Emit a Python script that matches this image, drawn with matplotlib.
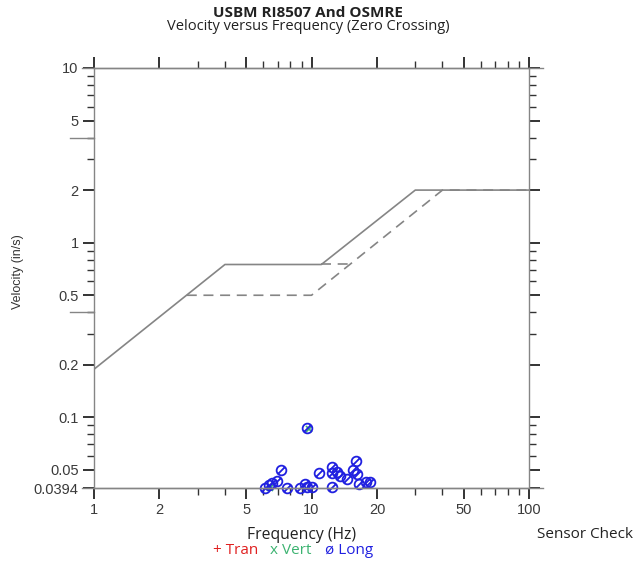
import numpy as np
import matplotlib
matplotlib.use("Agg")
import matplotlib.pyplot as plt
from matplotlib.path import Path

# limit curves
usbm_f = [1, 4, 11.1, 30, 100]
usbm_v = [0.1885, 0.75, 0.75, 2.0, 2.0]
osm_f = [2.67, 10, 15, 40, 100]
osm_v = [0.5, 0.5, 0.75, 2.0, 2.0]
osm2_f = [11.1, 15]
osm2_v = [0.75, 0.75]

# measured peaks
long_f = [9.5, 6.11, 6.40, 6.60, 6.92, 7.27, 7.69, 8.85, 9.33, 9.5, 10.1, 10.86,
          12.46, 12.46, 12.46, 13.14, 13.52, 14.61, 15.56, 16.07, 16.24, 16.53, 17.75, 18.58]
long_v = [0.0867, 0.0396, 0.0410, 0.0423, 0.0433, 0.0498, 0.0396, 0.0396, 0.0416, 0.0400,
          0.0400, 0.0479, 0.0522, 0.0479, 0.0400, 0.0487, 0.0462, 0.0446, 0.0498, 0.0563,
          0.0474, 0.0416, 0.0427, 0.0427]
vert_f = [9.7, 6.45]
vert_v = [0.0855, 0.0394]

yticks = [0.0394, 0.05, 0.1, 0.2, 0.5, 1, 2, 5, 10]
ylabels = ["0.0394", "0.05", "0.1", "0.2", "0.5", "1", "2", "5", "10"]
yminor = [0.06, 0.07, 0.08, 0.09, 0.3, 0.4, 0.6, 0.7, 0.8, 0.9, 3, 4, 6, 7, 8, 9]
xticks = [1, 2, 5, 10, 20, 50, 100]
xlabels = ["1", "2", "5", "10", "20", "50", "100"]
xminor = [3, 4, 6, 7, 8, 9, 30, 40, 60, 70, 80, 90]

W, H = 638, 562
fig = plt.figure(figsize=(W / 100, H / 100), dpi=100)
ax = fig.add_axes([94 / W, 1 - 488 / H, 435 / W, 420 / H])
ax.set_xscale("log")
ax.set_yscale("log")
ax.set_xlim(1, 100)
ax.set_ylim(0.0394, 10)

grey = "#858585"
ax.plot(usbm_f, usbm_v, color=grey, lw=1.2)
ax.plot(osm_f, osm_v, color=grey, lw=1.2, ls=(0, (6, 4)))
ax.plot(osm2_f, osm2_v, color=grey, lw=1.2, ls=(0, (6, 4)))

# circle with slash marker
circ = Path.unit_circle()
slash = Path([(-0.7, -0.7), (0.7, 0.7)], [Path.MOVETO, Path.LINETO])
ophi = Path.make_compound_path(circ, slash)

ax.plot(vert_f, vert_v, ls="none", marker="x", ms=5, mew=1.2, color="#3cb371", clip_on=False)
ax.plot(long_f, long_v, ls="none", marker=ophi, ms=7, mew=1.3, mfc="none", mec="#2020e0",
        clip_on=False)

for s in ax.spines.values():
    s.set_color(grey)
    s.set_linewidth(1.0)

# extended top/bottom lines and stray left lines
ax.axhline(10, -0.028, 1.032, color=grey, lw=1.0, clip_on=False)
ax.axhline(0.0394, -0.028, 1.032, color=grey, lw=1.0, clip_on=False)
ax.axhline(4, -0.055, 0, color=grey, lw=1.0, clip_on=False)
ax.axhline(0.4, -0.055, 0, color=grey, lw=1.0, clip_on=False)

ax.set_xticks(xticks)
ax.set_xticklabels(xlabels)
ax.set_xticks(xminor, minor=True)
ax.set_yticks(yticks)
ax.set_yticklabels(ylabels)
ax.set_yticks(yminor, minor=True)
ax.xaxis.set_minor_formatter(plt.NullFormatter())
ax.yaxis.set_minor_formatter(plt.NullFormatter())
ax.tick_params(which="both", direction="out", top=True, right=True, colors="#333333",
               labelcolor="#3a3a3a", labelsize=10.5)
ax.tick_params(which="major", length=8, width=1.4, pad=3)
ax.tick_params(which="minor", length=5, width=1.0)
for lab in ax.get_xticklabels() + ax.get_yticklabels():
    lab.set_family("Liberation Sans")

tf = "Open Sans"
fig.text(308 / W, 1 - 13 / H, "USBM RI8507 And OSMRE", ha="center", va="center",
         fontsize=11, fontweight="bold", family=tf, color="#222222")
fig.text(308 / W, 1 - 27 / H, "Velocity versus Frequency (Zero Crossing)", ha="center",
         va="center", fontsize=10.5, family=tf, color="#222222")
fig.text(18 / W, 1 - 272 / H, "Velocity (in/s)", rotation=90, ha="center", va="center",
         fontsize=9, family="Liberation Sans", color="#333333")
fig.text(302 / W, 1 - 535 / H, "Frequency (Hz)", ha="center", va="center", fontsize=11.3,
         family=tf, color="#222222")
fig.text(585 / W, 1 - 535 / H, "Sensor Check", ha="center", va="center", fontsize=11,
         family=tf, color="#222222")
fig.text(213 / W, 1 - 551 / H, "+ Tran", ha="left", va="center", fontsize=11, family=tf,
         color="#e02020")
fig.text(270 / W, 1 - 551 / H, "x Vert", ha="left", va="center", fontsize=11, family=tf,
         color="#3cb371")
fig.text(325 / W, 1 - 551 / H, "ø Long", ha="left", va="center", fontsize=11, family=tf,
         color="#2020e0")

fig.savefig("out.png", dpi=100)
